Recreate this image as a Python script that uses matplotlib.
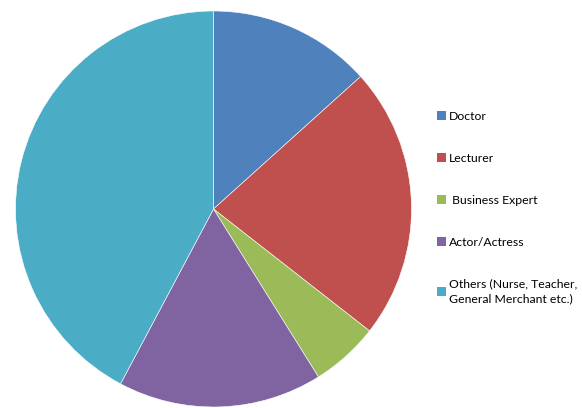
import matplotlib
matplotlib.use("Agg")
import matplotlib.pyplot as plt
from matplotlib.patches import Patch

# datos (conteos aproximados)
categorias = ["Doctor", "Lecturer", " Business Expert", "Actor/Actress",
              "Others (Nurse, Teacher,\nGeneral Merchant etc.)"]
valores = [12, 20, 5, 15, 38]
colores = ["#4F81BD", "#C0504D", "#9BBB59", "#8064A2", "#4BACC6"]

plt.rcParams['font.family'] = ['Lato', 'DejaVu Sans']

fig = plt.figure(figsize=(5.82, 4.08), dpi=100)
ax = fig.add_axes([15.5 / 582, 1 / 408, 396 / 582, 396 / 408])
ax.pie(valores, colors=colores, startangle=90, counterclock=False,
       wedgeprops={'edgecolor': 'white', 'linewidth': 0.4})
ax.set_xlim(-1, 1)
ax.set_ylim(-1, 1)
ax.set_aspect('equal')

manijas = [Patch(facecolor=c, edgecolor='none') for c in colores]
leyenda = fig.legend(manijas, categorias, loc='upper left',
                     bbox_to_anchor=(431 / 582, 1 - 105 / 408), frameon=False,
                     fontsize=8.8, handlelength=0.75, handleheight=0.75,
                     handletextpad=0.25, labelspacing=2.52, borderpad=0)
leyenda.get_texts()[-1].set_linespacing(1.45)

fig.savefig("out.png", dpi=100)
